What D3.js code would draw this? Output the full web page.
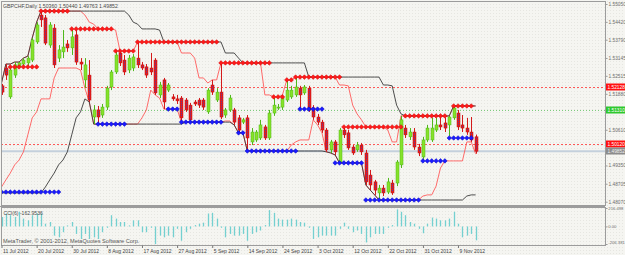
<!DOCTYPE html>
<html><head><meta charset="utf-8">
<script src="https://cdn.jsdelivr.net/npm/d3@7"></script>
<style>
html,body{margin:0;padding:0;background:#f4f4f0;}
svg{display:block;}
text{font-family:"Liberation Sans",Arial,sans-serif;}
</style></head><body>
<svg id="c" width="625" height="255"></svg>
<script>
// ---------- data ----------
const titleText = "GBPCHF,Daily  1.50360 1.50440 1.49763 1.49852";
const cciTitle = "CCI(6) -162.9536";
const copyright = "MetaTrader, \u00A9 2001-2012, MetaQuotes Software Corp.";
const dateTickBars = [0,8,16,24,32,40,48,56,64,72,80,88,96,104];
const dateLabels = ["11 Jul 2012","20 Jul 2012","30 Jul 2012","8 Aug 2012","17 Aug 2012","27 Aug 2012","5 Sep 2012","14 Sep 2012","24 Sep 2012","3 Oct 2012","12 Oct 2012","22 Oct 2012","31 Oct 2012","9 Nov 2012"];
const priceTicks = [1.55050,1.54420,1.53790,1.53145,1.52515,1.51880,1.50610,1.49350,1.48705,1.48070];
const cciTicks = [216.498,0,-206.381];
const cciTickLabels = ["216.498","0.00","-206.381"];

const open = [1.5216,1.5279,1.5177,1.5254,1.5283,1.5293,1.5297,1.5307,1.5371,1.5466,
1.5456,1.5360,1.5420,1.5314,1.5336,1.5364,1.5350,1.5396,1.5300,1.5237,
1.5254,1.5106,1.5131,1.5113,1.5141,1.5212,1.5265,1.5332,1.5307,1.5272,
1.5279,1.5314,1.5290,1.5283,1.5279,1.5307,1.5184,1.5237,1.5201,1.5177,
1.5170,1.5173,1.5166,1.5148,1.5159,1.5166,1.5166,1.5124,1.5219,1.5166,
1.5194,1.5113,1.5131,1.5131,1.5103,1.5088,1.5103,1.5018,1.5025,1.5032,
1.5071,1.5032,1.5120,1.5138,1.5141,1.5166,1.5177,1.5184,1.5208,1.5191,
1.5208,1.5138,1.5106,1.5088,1.5060,1.4990,1.5018,1.4947,1.5060,1.5050,
1.5000,1.4990,1.5007,1.4979,1.4901,1.4877,1.4838,1.4855,1.4841,1.4873,
1.4873,1.4937,1.5067,1.5036,1.5053,1.5000,1.4965,1.5025,1.5025,1.5060,
1.5078,1.5085,1.5078,1.5103,1.5120,1.5078,1.5067,1.5053,1.50360];
const high = [1.5223,1.5293,1.5283,1.5300,1.5300,1.5314,1.5321,1.5385,1.5441,1.5480,
1.5466,1.5441,1.5434,1.5360,1.5413,1.5378,1.5417,1.5413,1.5314,1.5314,
1.5307,1.5148,1.5145,1.5152,1.5216,1.5272,1.5339,1.5336,1.5325,1.5325,
1.5328,1.5371,1.5300,1.5293,1.5332,1.5314,1.5230,1.5244,1.5226,1.5187,
1.5184,1.5180,1.5173,1.5156,1.5166,1.5173,1.5173,1.5208,1.5237,1.5208,
1.5297,1.5138,1.5184,1.5138,1.5113,1.5103,1.5113,1.5067,1.5060,1.5096,
1.5078,1.5131,1.5177,1.5152,1.5184,1.5237,1.5216,1.5247,1.5216,1.5219,
1.5216,1.5148,1.5117,1.5096,1.5067,1.5025,1.5025,1.5067,1.5071,1.5060,
1.5007,1.5018,1.5014,1.4990,1.4919,1.4884,1.4866,1.4866,1.4891,1.4884,
1.4954,1.5110,1.5078,1.5067,1.5067,1.5011,1.5036,1.5078,1.5103,1.5103,
1.5106,1.5103,1.5110,1.5145,1.5131,1.5113,1.5103,1.5106,1.50440];
const low = [1.5184,1.5237,1.5170,1.5244,1.5279,1.5286,1.5286,1.5300,1.5364,1.5424,
1.5360,1.5350,1.5279,1.5300,1.5314,1.5336,1.5325,1.5290,1.5272,1.5208,
1.5159,1.5081,1.5081,1.5103,1.5131,1.5201,1.5258,1.5286,1.5254,1.5261,
1.5268,1.5279,1.5272,1.5244,1.5254,1.5184,1.5173,1.5134,1.5194,1.5163,
1.5152,1.5088,1.5124,1.5092,1.5145,1.5138,1.5131,1.5117,1.5184,1.5159,
1.5099,1.5103,1.5124,1.5078,1.5050,1.5081,1.4986,1.5007,1.5018,1.5025,
1.5025,1.5025,1.5110,1.5131,1.5131,1.5159,1.5170,1.5177,1.5138,1.5184,
1.5124,1.5096,1.5078,1.5050,1.4983,1.4979,1.4972,1.4944,1.5032,1.4990,
1.4972,1.4983,1.4972,1.4866,1.4848,1.4831,1.4813,1.4827,1.4834,1.4831,
1.4862,1.4926,1.5032,1.5025,1.4990,1.4968,1.4951,1.5018,1.5018,1.5053,
1.5060,1.5053,1.5039,1.5096,1.5060,1.5053,1.5043,1.5018,1.49763];
const close = [1.5194,1.5254,1.5272,1.5290,1.5297,1.5307,1.5314,1.5378,1.5431,1.5449,
1.5367,1.5431,1.5290,1.5343,1.5353,1.5350,1.5389,1.5300,1.5293,1.5290,
1.5166,1.5131,1.5106,1.5141,1.5208,1.5265,1.5325,1.5297,1.5265,1.5314,
1.5318,1.5290,1.5279,1.5254,1.5265,1.5191,1.5219,1.5159,1.5219,1.5170,
1.5163,1.5103,1.5131,1.5096,1.5152,1.5148,1.5141,1.5201,1.5194,1.5194,
1.5106,1.5131,1.5173,1.5088,1.5060,1.5096,1.5032,1.5053,1.5053,1.5078,
1.5032,1.5120,1.5148,1.5141,1.5173,1.5201,1.5201,1.5212,1.5184,1.5212,
1.5131,1.5106,1.5088,1.5060,1.4990,1.5018,1.4983,1.5060,1.5043,1.4997,
1.4979,1.5007,1.4983,1.4877,1.4866,1.4848,1.4855,1.4838,1.4877,1.4838,
1.4947,1.5096,1.5043,1.5053,1.5000,1.4979,1.5025,1.5067,1.5067,1.5078,
1.5071,1.5067,1.5106,1.5138,1.5071,1.5067,1.5053,1.5025,1.49852];
// bars before 11 Jul (off-screen), needed by the 10/20-bar channels
const earlierHigh = [1.4884,1.4891,1.4901,1.4898,1.4891,1.4884,1.4901,1.4891,1.4884,1.4891,1.4919,1.4937,1.4954,1.4990,1.5007,1.5060,1.5113,1.5166,1.5226];
const earlierLow = [1.4838,1.4841,1.4848,1.4845,1.4841,1.4838,1.4845,1.4841,1.4838,1.4838,1.4859,1.4884,1.4908,1.4937,1.4954,1.4983,1.5043,1.5103,1.5124];

const cci = [112,152,132,112,172,92,72,132,152,152,
32,52,-108,-128,-68,12,52,-88,-148,-88,
-148,-128,-148,-68,-16,132,92,52,52,12,
72,72,-68,-68,-16,-208,-108,-128,-108,-128,
-28,-168,-68,-28,16,32,44,152,160,92,
-16,-128,-88,-108,-108,-88,-168,-88,-68,-48,
16,192,160,92,80,80,92,80,52,44,
-16,-148,-128,-108,-108,-108,-108,-28,44,-28,
-68,-48,-88,-188,-128,-88,-88,-88,-16,16,
200,172,132,52,32,-28,-80,32,104,92,
72,72,92,172,32,-128,-108,-88,-162.9536];

// resistance / support marker levels: [firstBar, lastBar, price]
const resistance = [[2,8,1.5283],[9,15,1.5480],[16,25,1.5417],[26,30,1.5339],[31,49,1.5371],[50,61,1.5297],[62,64,1.5177],[65,66,1.5237],[67,77,1.5247],[78,91,1.5071],[92,101,1.5110],[103,107,1.5145]];
const support = [[0,13,1.4841],[22,28,1.5081],[38,40,1.5134],[41,50,1.5088],[54,55,1.5050],[56,67,1.4986],[68,73,1.5134],[76,82,1.4944],[83,95,1.4813],[96,101,1.4951],[102,107,1.5032]];

const redLevels = [1.52128, 1.50120];
const greenLevel = 1.51310;
const bidPrice = 1.49852;

// ---------- drawing ----------
const svg = d3.select("#c");
const W = 625, H = 255;
const plotL = 1, plotR = 605, mainT = 1, mainB = 205, subT = 207, subB = 245;

const defs = svg.append("defs");
const pat = defs.append("pattern").attr("id","dots").attr("width",3).attr("height",3).attr("patternUnits","userSpaceOnUse");
pat.append("rect").attr("width",3).attr("height",3).attr("fill","#f5f5f1");
pat.append("rect").attr("x",1).attr("y",1).attr("width",1).attr("height",1).attr("fill","#e6e6e1");
defs.append("clipPath").attr("id","mainClip").append("rect").attr("x",plotL+1).attr("y",mainT+1).attr("width",plotR-plotL-1).attr("height",mainB-mainT-1);
defs.append("clipPath").attr("id","subClip").append("rect").attr("x",plotL+1).attr("y",subT).attr("width",plotR-plotL-1).attr("height",subB-subT);

svg.append("rect").attr("width",W).attr("height",H).attr("fill","url(#dots)");

const n = close.length;
const x = d3.scaleLinear().domain([0, 108]).range([1.5, 475.6]);
const y = d3.scaleLinear().domain([1.48070, 1.55050]).range([201.7, 4]);
const yc = d3.scaleLinear().domain([-206.381, 216.498]).range([244, 208]);

const main = svg.append("g").attr("clip-path","url(#mainClip)");

// horizontal level lines
main.selectAll(".rl").data(redLevels).join("line")
  .attr("x1",plotL).attr("x2",plotR).attr("y1",d=>Math.round(y(d))+0.5).attr("y2",d=>Math.round(y(d))+0.5)
  .attr("stroke","#ff3030").attr("stroke-width",0.8).attr("stroke-dasharray","2,2");
main.append("line").attr("x1",plotL).attr("x2",plotR)
  .attr("y1",Math.round(y(greenLevel))+0.5).attr("y2",Math.round(y(greenLevel))+0.5)
  .attr("stroke","#60c060").attr("stroke-width",0.8).attr("stroke-dasharray","1,2");
main.append("line").attr("x1",plotL).attr("x2",plotR)
  .attr("y1",y(bidPrice)).attr("y2",y(bidPrice))
  .attr("stroke","#c4d0dc").attr("stroke-width",2);

// channels (highest high / lowest low)
const allHigh = earlierHigh.concat(high), allLow = earlierLow.concat(low);
const off = earlierHigh.length;
function chan(arr, len, fn){ return d3.range(n).map(i => fn(arr.slice(i+off-len+1, i+off+1))); }
const hh10 = chan(allHigh,10,d3.max), ll10 = chan(allLow,10,d3.min);
const hh20 = chan(allHigh,20,d3.max), ll20 = chan(allLow,20,d3.min);
const line = d3.line().x((d,i)=>x(i)).y(d=>y(d));
[hh10,ll10].forEach(s=>main.append("path").attr("d",line(s)).attr("fill","none").attr("stroke","#ff5a5a").attr("stroke-width",0.9));
[hh20,ll20].forEach(s=>main.append("path").attr("d",line(s)).attr("fill","none").attr("stroke","#3a3a3a").attr("stroke-width",0.9));

// candles
const bars = d3.range(n).map(i=>({i,o:open[i],h:high[i],l:low[i],c:close[i]}));
const cg = main.append("g");
cg.selectAll(".wick").data(bars).join("line")
  .attr("x1",d=>Math.round(x(d.i))+0.5).attr("x2",d=>Math.round(x(d.i))+0.5)
  .attr("y1",d=>y(d.h)).attr("y2",d=>y(d.l))
  .attr("stroke",d=>d.c>=d.o?"#4fb81a":"#d41a1a").attr("stroke-width",1);
cg.selectAll(".body").data(bars).join("rect")
  .attr("x",d=>Math.round(x(d.i))-1).attr("width",3)
  .attr("y",d=>y(Math.max(d.o,d.c))).attr("height",d=>Math.max(1,Math.abs(y(d.o)-y(d.c))))
  .attr("fill",d=>d.c>=d.o?"#86e22a":"#e81c1c")
  .attr("stroke",d=>d.c>=d.o?"#4fb81a":"#c01010").attr("stroke-width",0.5);
cg.selectAll(".dots").data(bars.filter(d=>d.c<d.o && Math.abs(y(d.o)-y(d.c))>3)).join("line")
  .attr("x1",d=>Math.round(x(d.i))+0.5).attr("x2",d=>Math.round(x(d.i))+0.5)
  .attr("y1",d=>y(d.o)+1).attr("y2",d=>y(d.c)-1)
  .attr("stroke","#5a3a9a").attr("stroke-width",1).attr("stroke-dasharray","1,1");

// markers
function diamonds(segs, fill, stroke){
  const pts = [];
  segs.forEach(([a,b,p])=>{ for(let i=a;i<=b;i++) pts.push({i,p}); });
  main.append("g").selectAll("path").data(pts).join("path")
    .attr("d",d=>{const cx=x(d.i), cy=y(d.p), r=2.3; return `M${cx},${cy-r}L${cx+r},${cy}L${cx},${cy+r}L${cx-r},${cy}Z`;})
    .attr("fill",fill).attr("stroke",stroke).attr("stroke-width",0.5);
}
diamonds(resistance,"#ff1a1a","#d00000");
diamonds(support,"#1a1aff","#0000c0");

// frames
const frame = svg.append("g").attr("fill","none").attr("stroke","#9c9c9c");
frame.append("rect").attr("x",plotL+0.5).attr("y",mainT+0.5).attr("width",plotR-plotL).attr("height",mainB-mainT);
frame.append("line").attr("x1",0).attr("x2",plotR).attr("y1",206.5).attr("y2",206.5).attr("stroke-width",1.2);
frame.append("rect").attr("x",plotL+0.5).attr("y",subT+0.5).attr("width",plotR-plotL).attr("height",subB-subT);

// right price axis
const ax = svg.append("g").attr("transform",`translate(${plotR+0.5},0)`)
  .call(d3.axisRight(y).tickValues(priceTicks).tickSize(2).tickPadding(1).tickFormat(d=>d.toFixed(5)));
ax.select(".domain").remove();
ax.selectAll("line").attr("stroke","#9c9c9c");
ax.selectAll("text").attr("font-size",4.8).attr("fill","#6e6e6e");

// price label boxes
const boxes = [{p:redLevels[0],fill:"#ff1010",txt:"#ffffff"},{p:greenLevel,fill:"#2ec82e",txt:"#ffffff"},{p:redLevels[1],fill:"#ff1010",txt:"#ffffff"},{p:bidPrice,fill:"#8c8c8c",txt:"#f0f0f0"}];
const bg = svg.append("g").selectAll("g").data(boxes).join("g").attr("transform",d=>`translate(${plotR+1},${Math.round(y(d.p))})`);
bg.append("rect").attr("x",0).attr("y",-3.5).attr("width",19).attr("height",7).attr("fill",d=>d.fill);
bg.append("text").attr("x",1.5).attr("y",0).attr("dy","0.35em").attr("font-size",4.8).attr("fill",d=>d.txt).text(d=>d.p.toFixed(5));

// CCI sub-window
const sub = svg.append("g").attr("clip-path","url(#subClip)");
sub.selectAll("line").data(cci).join("line")
  .attr("x1",(d,i)=>Math.round(x(i))+0.5).attr("x2",(d,i)=>Math.round(x(i))+0.5)
  .attr("y1",yc(0)).attr("y2",d=>yc(d))
  .attr("stroke","#74d0d0").attr("stroke-width",1.3);
const cax = svg.append("g").attr("transform",`translate(${plotR+0.5},0)`)
  .call(d3.axisRight(yc).tickValues(cciTicks).tickSize(2).tickPadding(0.8).tickFormat((d,i)=>cciTickLabels[i]));
cax.select(".domain").remove();
cax.selectAll("line").attr("stroke","#9c9c9c");
cax.selectAll("text").attr("font-size",4.2).attr("fill","#6e6e6e");
cax.selectAll(".tick").filter((d,i)=>i===2).select("text").attr("dy","-0.1em");

// date axis
const dax = svg.append("g").attr("transform",`translate(0,${subB+0.5})`)
  .call(d3.axisBottom(x).tickValues(dateTickBars).tickSize(2.5).tickPadding(1.5).tickFormat((d,i)=>dateLabels[i]));
dax.select(".domain").remove();
dax.selectAll("line").attr("stroke","#777");
dax.selectAll("text").attr("font-size",5).attr("fill","#444").attr("text-anchor","start").attr("dx",1);

// texts
svg.append("text").attr("x",3).attr("y",8).attr("font-size",5.2).attr("fill","#4a4a4a").text(titleText);
svg.append("text").attr("x",3.5).attr("y",214.5).attr("font-size",5.1).attr("fill","#4a4a4a").text(cciTitle);
svg.append("text").attr("x",3).attr("y",242.5).attr("font-size",5.6).attr("fill","#555").text(copyright);
</script>
</body></html>
